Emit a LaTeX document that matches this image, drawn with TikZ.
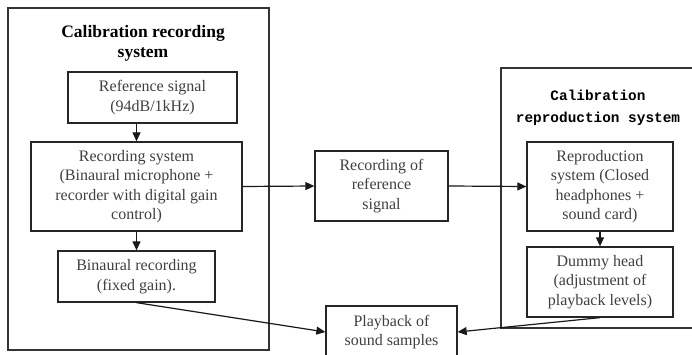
\documentclass[tikz,border=0pt]{standalone}
\usepackage{fontspec}
\setmainfont{Liberation Serif}
\newfontfamily\monofam{Liberation Mono}
\usetikzlibrary{arrows.meta}
\tikzset{
    box/.style    = {rectangle, draw=black!85, line width=1.3pt, align=center, text=black!75,
                     inner sep=0pt, font=\fontsize{16}{19.5}\selectfont},
    frame/.style  = {draw=black!80, line width=1.4pt},
    arr/.style    = {-{Triangle[length=9pt,width=8pt]}, line width=1.2pt, draw=black!90}
}

\begin{document}
\begin{tikzpicture}[x=1pt, y=-1pt,
        lefttitle/.style  = {align=center, font=\bfseries\fontsize{17.5}{20}\selectfont},
        righttitle/.style = {align=center, font=\monofam\bfseries\fontsize{14.4}{22}\selectfont}
    ]
        \useasboundingbox (0,0) rectangle (692,355);
        \fill[white] (0,0) rectangle (692,355);
        \clip (0,0) rectangle (692,355);

        % Outer frames
        \draw[frame] (8,8) rectangle (269,350);
        \draw[frame] (501,68) rectangle (710,328);
        \node[lefttitle] (rectitle) at (143,43) {Calibration recording\\system};
        \node[righttitle] (reptitle) at (598,108) {Calibration\\reproduction system};

        % Recording side
        \node[box, minimum width=169pt, minimum height=51pt] (refsig) at (152.5,97.5) {Reference signal\\(94dB/1kHz)};
        \node[box, minimum width=211pt, minimum height=89pt] (recsys) at (136.5,186.5) {Recording system\\(Binaural microphone +\\recorder with digital gain\\control)};
        \node[box, minimum width=157pt, minimum height=51pt] (binrec) at (136.5,276.5) {Binaural recording\\(fixed gain).};

        % Middle
        \node[box, minimum width=133pt, minimum height=70pt] (recref) at (381.5,186) {Recording of\\reference\\signal};
        \node[box, minimum width=131pt, minimum height=52pt] (playback) at (391.5,332) {Playback of\\sound samples};

        % Reproduction side
        \node[box, minimum width=146pt, minimum height=89pt] (repsys) at (600,186.5) {Reproduction\\system (Closed\\headphones +\\sound card)};
        \node[box, minimum width=146pt, minimum height=70pt] (dummy) at (600,282) {Dummy head\\(adjustment of\\playback levels)};

        % Connections
        \draw[arr] (refsig.south -| recsys.north) -- (recsys.north);
        \draw[arr] (recsys.south) -- (binrec.north);
        \draw[arr] (recsys.east) -- (recref.west);
        \draw[arr] (recref.east) -- (repsys.west);
        \draw[arr] (repsys.south) -- (dummy.north);
        \draw[arr] (binrec.south) -- (playback.west);
        \draw[arr] (dummy.south) -- (playback.east);

    \end{tikzpicture}
\end{document}
